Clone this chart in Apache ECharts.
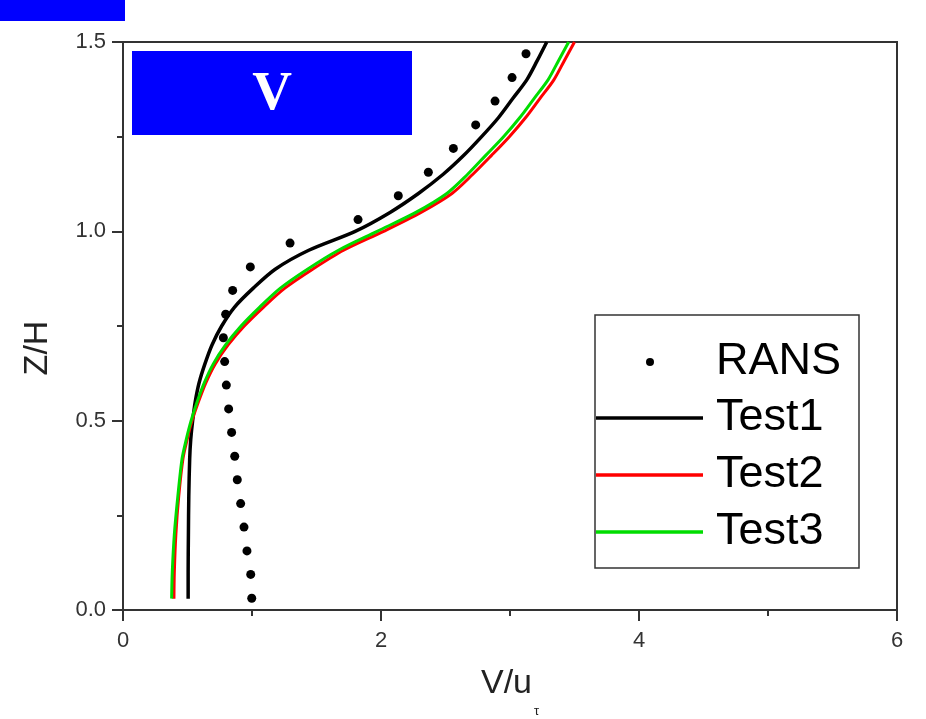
<!DOCTYPE html>
<html>
<head>
<meta charset="utf-8">
<script src="https://cdn.jsdelivr.net/npm/echarts@6/dist/echarts.min.js"></script>
<style>html,body{margin:0;padding:0;background:#fff}#c{width:926px;height:719px}</style>
</head>
<body>
<div id="c"></div>
<script>
// RANS points (Z/H, V/u_tau)
const ransZ = [0.031,0.094,0.156,0.219,0.281,0.344,0.406,0.469,0.531,0.594,0.656,0.719,0.781,0.844,0.906,0.969,1.031,1.094,1.156,1.219,1.281,1.344,1.406,1.469];
const ransV = [0.998,0.990,0.961,0.938,0.912,0.886,0.866,0.842,0.819,0.801,0.788,0.778,0.796,0.850,0.987,1.295,1.822,2.134,2.367,2.561,2.734,2.884,3.016,3.124];
// Curves sampled at these Z/H
const lineZ = [0.03,0.1,0.2,0.3,0.4,0.45,0.5,0.55,0.6,0.65,0.7,0.75,0.8,0.85,0.9,0.95,1.0,1.05,1.1,1.15,1.2,1.25,1.3,1.35,1.4,1.45,1.5];
const test1V = [0.505,0.505,0.507,0.510,0.517,0.525,0.540,0.560,0.590,0.635,0.690,0.765,0.865,1.010,1.180,1.440,1.800,2.070,2.290,2.480,2.640,2.780,2.910,3.020,3.130,3.210,3.285];
const test2V = [0.395,0.398,0.410,0.432,0.465,0.497,0.535,0.585,0.642,0.715,0.815,0.940,1.090,1.255,1.470,1.710,2.020,2.310,2.550,2.710,2.855,2.995,3.120,3.230,3.340,3.420,3.500];
const test3V = [0.377,0.382,0.398,0.425,0.458,0.490,0.528,0.575,0.630,0.700,0.795,0.915,1.060,1.220,1.430,1.670,1.970,2.270,2.510,2.670,2.810,2.950,3.075,3.185,3.295,3.375,3.455];
const seriesNames = ['RANS','Test1','Test2','Test3'];
const xTicks = ['0','2','4','6'];
const yTicks = ['0.0','0.5','1.0','1.5'];

const pair = (vs, zs) => vs.map((v, i) => [v, zs[i]]);
const chart = echarts.init(document.getElementById('c'), null, {renderer: 'canvas'});
const font = '"Liberation Sans", Arial, sans-serif';
const axisCol = '#333';

// legend (drawn as graphic)
const legX = 595, legY = 315, legW = 264, legH = 253;
const rowY = [362, 418, 475, 532];
const legColors = ['#000', '#000', '#ff0000', '#00dd00'];
const legendEls = [{type:'rect', shape:{x:legX, y:legY, width:legW, height:legH}, style:{fill:'#fff', stroke:axisCol, lineWidth:1.5}, z:100}];
seriesNames.forEach((n, i) => {
  if (i === 0) {
    legendEls.push({type:'circle', shape:{cx:650, cy:rowY[i], r:4}, style:{fill:'#000'}, z:101});
  } else {
    legendEls.push({type:'line', shape:{x1:legX+1, y1:rowY[i], x2:703, y2:rowY[i]}, style:{stroke:legColors[i], lineWidth:3.5}, z:101});
  }
  legendEls.push({type:'text', x:716, y:rowY[i], style:{text:n, font:'45px ' + font, fill:'#000', verticalAlign:'middle', align:'left'}, z:101});
});

const option = {
  backgroundColor: '#fff',
  animation: false,
  grid: {left:123, right:29, top:42, bottom:109, show:true, borderColor:axisCol, borderWidth:2, backgroundColor:'transparent'},
  xAxis: {
    type:'value', min:0, max:6, interval:2,
    axisLine:{show:true, lineStyle:{color:axisCol, width:2}},
    axisTick:{show:true, inside:false, length:11, lineStyle:{color:axisCol, width:2}},
    minorTick:{show:true, splitNumber:2, length:6, lineStyle:{color:axisCol, width:2}},
    splitLine:{show:false}, minorSplitLine:{show:false},
    axisLabel:{margin:20, fontSize:22, fontFamily:font, color:'#333', formatter:(v) => xTicks[Math.round(v/2)]}
  },
  yAxis: {
    type:'value', min:0, max:1.5, interval:0.5,
    axisLine:{show:true, lineStyle:{color:axisCol, width:2}},
    axisTick:{show:true, inside:false, length:11, lineStyle:{color:axisCol, width:2}},
    minorTick:{show:true, splitNumber:2, length:6, lineStyle:{color:axisCol, width:2}},
    splitLine:{show:false}, minorSplitLine:{show:false},
    axisLabel:{margin:17, fontSize:22, fontFamily:font, color:'#333', formatter:(v) => yTicks[Math.round(v*2)]}
  },
  series: [
    {name:'Test1', type:'line', data:pair(test1V, lineZ), showSymbol:false, symbol:'none', smooth:0.3, lineStyle:{color:'#000', width:3.5}, z:2},
    {name:'Test2', type:'line', data:pair(test2V, lineZ), showSymbol:false, symbol:'none', smooth:0.3, lineStyle:{color:'#ff0000', width:3}, z:3},
    {name:'Test3', type:'line', data:pair(test3V, lineZ), showSymbol:false, symbol:'none', smooth:0.3, lineStyle:{color:'#00dd00', width:3}, z:4},
    {name:'RANS', type:'scatter', data:pair(ransV, ransZ), symbol:'circle', symbolSize:9, itemStyle:{color:'#000', opacity:1}, z:5}
  ],
  graphic: [
    {type:'rect', shape:{x:0, y:0, width:125, height:21}, style:{fill:'#0000ff'}},
    {type:'rect', shape:{x:132, y:51, width:280, height:84}, style:{fill:'#0000ff'}, z:50},
    {type:'text', x:272, y:95, style:{text:'V', font:'bold 55px "Liberation Serif", "DejaVu Serif", serif', fill:'#fff', align:'center', verticalAlign:'middle'}, z:51},
    {type:'text', x:481, y:684, style:{text:'V/u', font:'34px ' + font, fill:'#222', align:'left', verticalAlign:'middle'}},
    {type:'text', x:534, y:711, style:{text:'τ', font:'13px ' + font, fill:'#222', align:'left', verticalAlign:'middle'}},
    {type:'text', x:38, y:348, rotation:Math.PI/2, style:{text:'Z/H', font:'34px ' + font, fill:'#222', align:'center', verticalAlign:'middle'}},
    ...legendEls
  ]
};
chart.setOption(option);
</script>
</body>
</html>
